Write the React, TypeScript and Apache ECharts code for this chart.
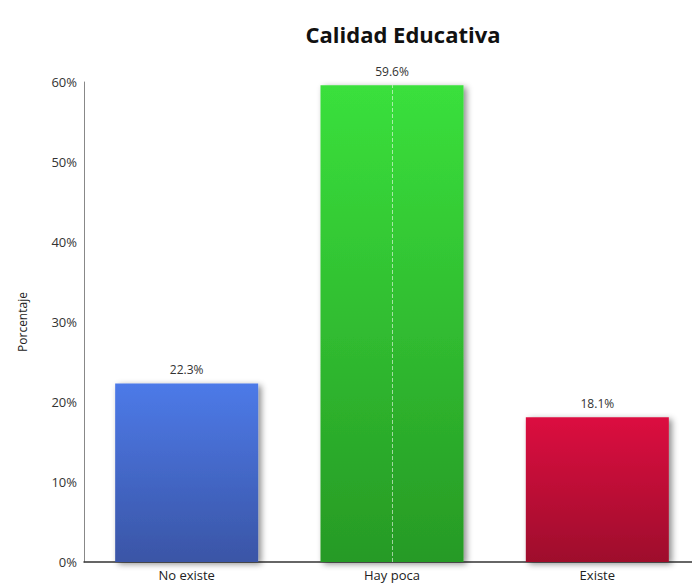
import React, { useEffect, useRef } from "react";
import * as echarts from "echarts";

const categories = ["No existe", "Hay poca", "Existe"];
const values = [22.3, 59.6, 18.1];
const topColors = ["#4d7ae8", "#3ae03c", "#dc1040"];
const bottomColors = ["#3a55a6", "#279a25", "#9e0e2c"];
const yTicks = [0, 10, 20, 30, 40, 50, 60];

export default function App() {
  const ref = useRef<HTMLDivElement>(null);
  useEffect(() => {
    if (!ref.current) return;
    const chart = echarts.init(ref.current, undefined, { renderer: "svg" });
    const font = "'Open Sans', 'Noto Sans', sans-serif";
    chart.setOption({
      animation: false,
      title: {
        text: "Calidad Educativa",
        left: 390,
        top: 10,
        textAlign: "center",
        textStyle: { fontSize: 22, fontWeight: "bold", color: "#111", fontFamily: font },
      },
      grid: { left: 76, right: -8, top: 74, bottom: 25, containLabel: false },
      xAxis: {
        type: "category",
        data: categories,
        axisLine: { lineStyle: { color: "#333", width: 1.5 } },
        axisTick: { show: false },
        axisLabel: { fontSize: 13, color: "#222", fontFamily: font, margin: 6 },
      },
      yAxis: {
        type: "value",
        min: yTicks[0],
        max: yTicks[yTicks.length - 1],
        interval: 10,
        name: "Porcentaje",
        nameLocation: "middle",
        nameGap: 56,
        nameTextStyle: { fontSize: 12, color: "#222", fontFamily: font },
        axisLine: { show: true, lineStyle: { color: "#888" } },
        axisTick: { show: false },
        splitLine: { show: false },
        axisLabel: { fontSize: 13, color: "#333", fontFamily: font, margin: 7, formatter: "{value}%" },
      },
      series: [
        {
          type: "bar",
          barWidth: 143,
          data: values.map((v, i) => ({
            value: v,
            itemStyle: {
              color: new echarts.graphic.LinearGradient(0, 0, 0, 1, [
                { offset: 0, color: topColors[i] },
                { offset: 1, color: bottomColors[i] },
              ]),
              shadowColor: "rgba(0,0,0,0.45)",
              shadowBlur: 6,
              shadowOffsetX: 3,
              shadowOffsetY: 2,
            },
          })),
          label: {
            show: true,
            position: "top",
            distance: 8,
            fontSize: 12,
            color: "#333",
            fontFamily: font,
            formatter: (p: any) => p.value + "%",
          },
          markLine: {
            silent: true,
            symbol: "none",
            label: { show: false },
            lineStyle: { color: "rgba(255,255,255,0.55)", type: "dashed", width: 1 },
            data: [[{ coord: [categories[1], 0] }, { coord: [categories[1], values[1]] }]],
          },
        },
      ],
    });
    return () => chart.dispose();
  }, []);
  return <div ref={ref} style={{ width: 692, height: 579 }} />;
}
